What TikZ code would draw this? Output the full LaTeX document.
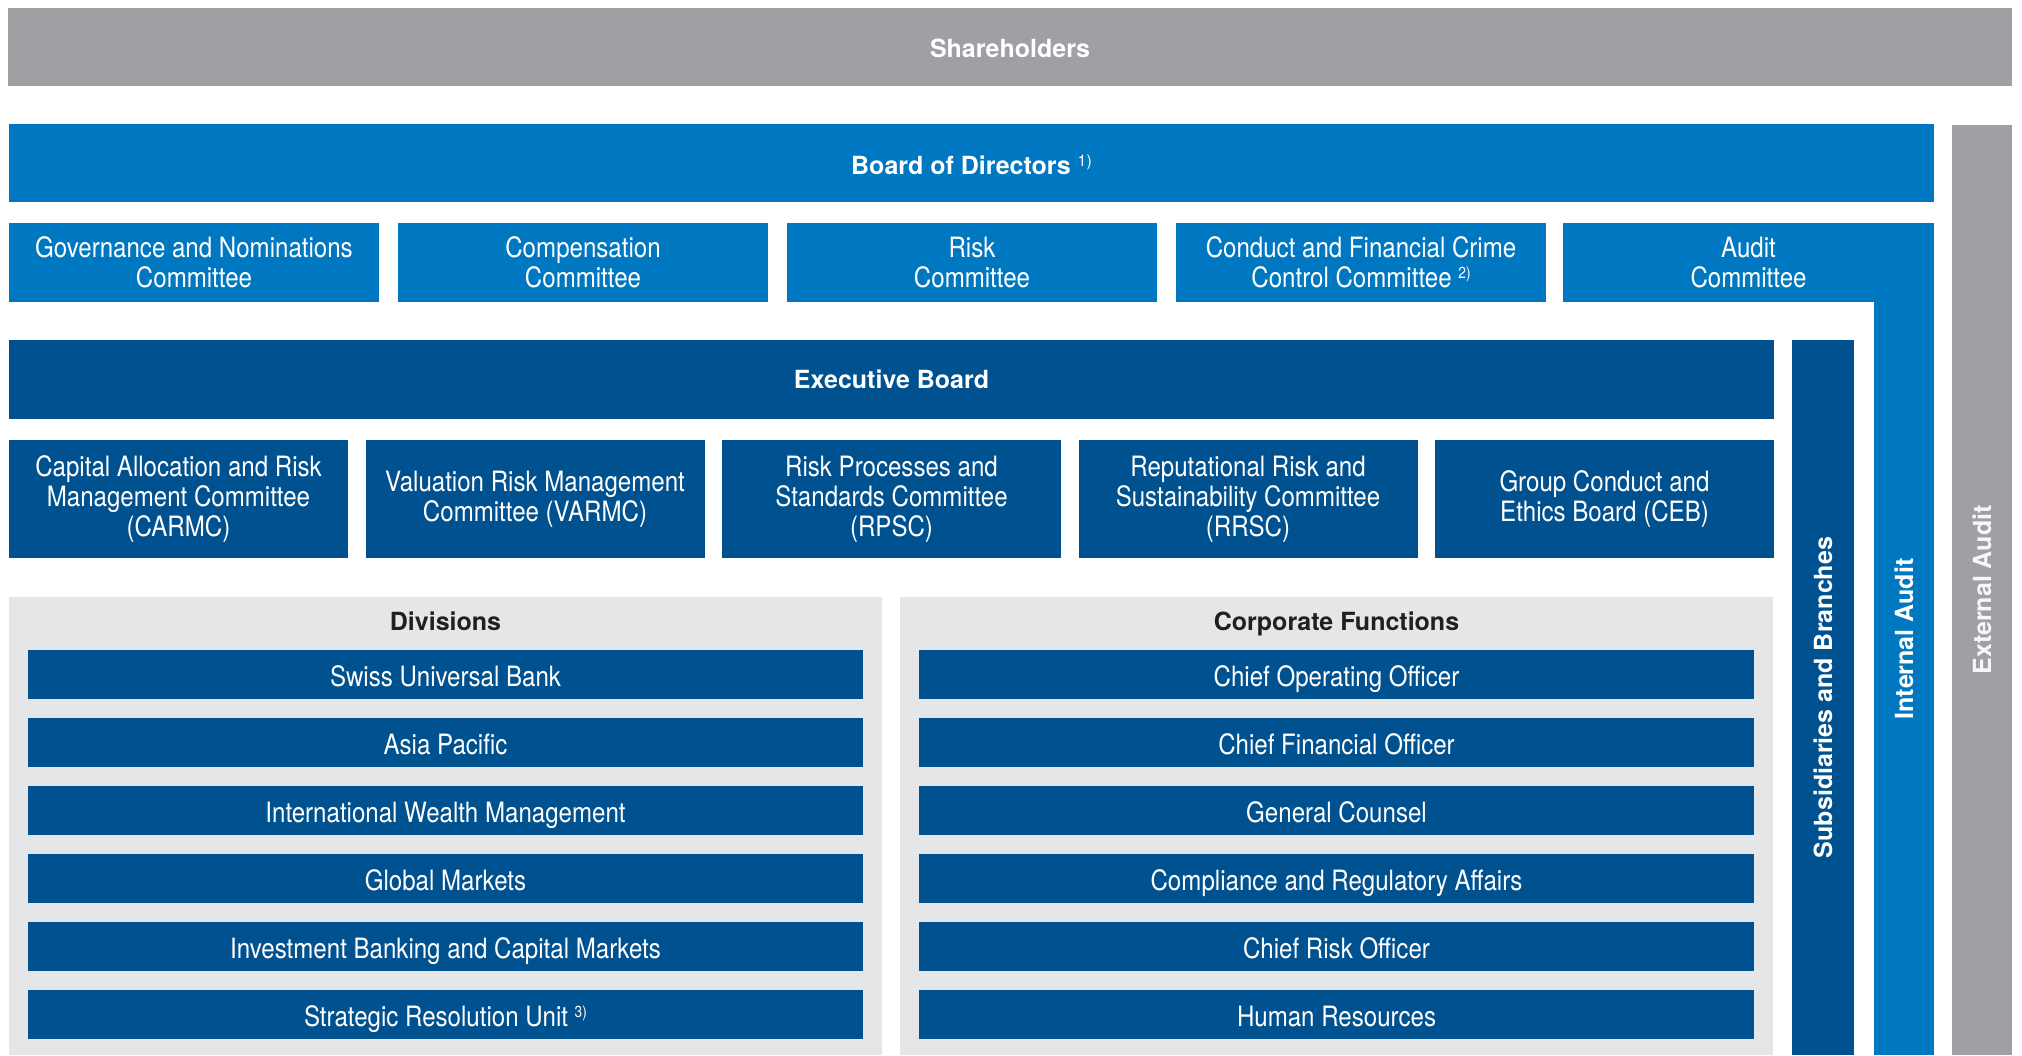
\documentclass[tikz,border=0pt]{standalone}
\usepackage{fontspec}
\setmainfont{TeX Gyre Heros}
\newfontfamily\boxfont[FakeStretch=0.86]{TeX Gyre Heros}
\definecolor{holdgrey}{HTML}{9FA0A4}
\definecolor{boardblue}{HTML}{0078C1}
\definecolor{execblue}{HTML}{00518F}
\definecolor{panelgrey}{HTML}{E5E6E8}
\definecolor{titleink}{HTML}{231F20}
\newcommand{\fnote}[1]{\ \raisebox{0.6ex}{\fontsize{8}{8}\selectfont #1}}
\begin{document}
\begin{tikzpicture}[
		x=1pt, y=-1pt,
		box/.style = {
			anchor=north west,
			inner sep=0pt,
			outer sep=0pt,
			align=center,
			text=white,
			font=\boxfont\fontsize{14}{15}\selectfont
		},
		oneline/.style = {text height=10pt, text depth=1pt},
		title/.style = {font=\bfseries\fontsize{12.5}{15}\selectfont},
		holder/.style = {box, fill=holdgrey},
		board/.style = {box, fill=boardblue},
		exec/.style = {box, fill=execblue},
		panel/.style = {
			anchor=north west,
			inner sep=0pt,
			fill=panelgrey,
			minimum width=436.5pt,
			minimum height=229pt
		},
		bar/.style = {exec, oneline, text height=12.6pt, minimum width=417.5pt, minimum height=24.5pt},
		upright/.style = {rotate=90, inner sep=0pt, text=white, title}
	]
	\useasboundingbox (0,0) rectangle (1011,527.5);
	% top of the house
	\node[holder, title, oneline, text height=11.3pt, minimum width=1002pt, minimum height=39pt] (SH) at (4,4) {Shareholders};
	\node[board, title, oneline, text height=12.6pt, minimum width=962.5pt, minimum height=39pt] (BoD) at (4.5,62) {Board of Directors{\mdseries\fnote{1)}}};
	\node[holder, minimum width=30pt, minimum height=465pt] (EA) at (976,62.5) {};
	\node[upright, text=white!92!holdgrey] (EAtext) at (EA.center) {External Audit};
	% board committees
	\foreach \txt [count=\k from 0] in {
			{Governance and Nominations\\Committee},
			{Compensation\\Committee},
			{Risk\\Committee},
			{Conduct and Financial Crime\\Control Committee\fnote{2)}}}
		\node[board, minimum width=185pt, minimum height=39.5pt] (BC\k) at ({4.5+194.5*\k},111.5) {\txt};
	\node[board, minimum width=30pt, minimum height=416pt] (IA) at (937,111.5) {};
	\node[board, minimum width=185.5pt, minimum height=39.5pt] (AC) at (781.5,111.5) {Audit\\Committee};
	\node[upright] (IAtext) at (IA.center) {Internal Audit};
	% executive level
	\node[exec, title, oneline, minimum width=882.5pt, minimum height=39.5pt] (EB) at (4.5,170) {Executive Board};
	\node[exec, minimum width=31pt, minimum height=357.5pt] (SB) at (896,170) {};
	\node[upright] (SBtext) at (SB.center) {Subsidiaries and Branches};
	\foreach \txt [count=\k from 0] in {
			{Capital Allocation and Risk\\Management Committee\\(CARMC)},
			{Valuation Risk Management\\Committee (VARMC)},
			{Risk Processes and\\Standards Committee\\(RPSC)},
			{Reputational Risk and\\Sustainability Committee\\(RRSC)},
			{Group Conduct and\\Ethics Board (CEB)}}
		\node[exec, minimum width=169.5pt, minimum height=59pt] (EC\k) at ({4.5+178.25*\k},220) {\txt};
	% divisions and corporate functions
	\node[panel] (DIV) at (4.5,298.5) {};
	\node[panel] (CF) at (450,298.5) {};
	\node[title, oneline, text=titleink] (DIVtitle) at (222.75,310.5) {Divisions};
	\node[title, oneline, text=titleink] (CFtitle) at (668.25,310.5) {Corporate Functions};
	\foreach \txt [count=\k from 0] in {
			Swiss Universal Bank,
			Asia Pacific,
			International Wealth Management,
			Global Markets,
			Investment Banking and Capital Markets,
			{Strategic Resolution Unit\fnote{3)}}}
		\node[bar] (div\k) at (14,{325+34*\k}) {\txt};
	\foreach \txt [count=\k from 0] in {
			Chief Operating Officer,
			Chief Financial Officer,
			General Counsel,
			Compliance and Regulatory Affairs,
			Chief Risk Officer,
			Human Resources}
		\node[bar] (cf\k) at (459.5,{325+34*\k}) {\txt};
\end{tikzpicture}
\end{document}
